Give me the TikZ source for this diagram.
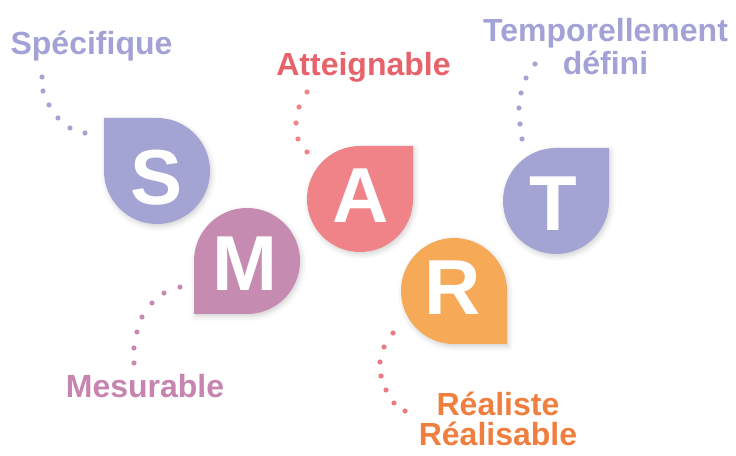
\documentclass[tikz,border=0pt]{standalone}
\usepackage{fontspec}
\setmainfont{Liberation Sans}
\usetikzlibrary{shadows.blur}
\definecolor{lav}{HTML}{A4A4D4}
\definecolor{lavtxt}{HTML}{A2A2D6}
\definecolor{mauve}{HTML}{C68BB1}
\definecolor{mauvetxt}{HTML}{C784B0}
\definecolor{salmon}{HTML}{F08387}
\definecolor{redtxt}{HTML}{E8626B}
\definecolor{reddot}{HTML}{EB7A83}
\definecolor{orng}{HTML}{F6AA58}
\definecolor{orngtxt}{HTML}{F07E3E}
\newcommand\mydrop[4]{%
  \fill[#4, blur shadow={shadow xshift=1.5pt, shadow yshift=-2.5pt, shadow blur radius=5pt, shadow opacity=18}]
    (#1,#2) ++(#3:74.953) -- ++(#3-135:53) arc[start angle=#3-45, delta angle=-270, radius=53] -- cycle;}
\begin{document}
\begin{tikzpicture}[x=1pt,y=1pt,
  lbl/.style={font=\bfseries\fontsize{32}{34}\selectfont, anchor=base, inner sep=0pt},
  bigletter/.style={font=\bfseries\fontsize{78}{80}\selectfont, text=white, inner sep=0pt}]
\useasboundingbox (0,0) rectangle (736,455);
% shapes
\mydrop{157}{284}{135}{lav}
\mydrop{247}{194}{225}{mauve}
\mydrop{360}{256}{45}{salmon}
\mydrop{454}{164}{315}{orng}
\mydrop{556}{254}{45}{lav}
% letters
\node[bigletter] (S) at (156.5,277) {S};
\node[bigletter] (M) at (245,191) {M};
\node[bigletter] (A) at (360.5,259) {A};
\node[bigletter] (R) at (453,167) {R};
\node[bigletter] (T) at (553.5,251) {T};
% labels
\node[lbl, text=lavtxt] (spec) at (91.5,400) {Spécifique};
\node[lbl, text=mauvetxt] (mes) at (145,57) {Mesurable};
\node[lbl, text=redtxt] (att) at (363.5,379) {Atteignable};
\node[lbl, text=orngtxt, anchor=south, align=center, font=\bfseries\fontsize{32}{30}\selectfont] (real) at (498,8.5) {Réaliste\\Réalisable};
\node[lbl, text=lavtxt, anchor=south, align=center, font=\bfseries\fontsize{32}{33}\selectfont] (temp) at (605.5,380) {Temporellement\\défini};
% dotted leaders
\foreach \p in {(42,378),(43,364),(49,350),(58,337),(70,327),(85,322)}
  \fill[lav] \p circle[radius=2.6];
\foreach \p in {(180,168),(164,162),(152,152),(142,138),(137,123),(134,107),(134,92)}
  \fill[mauve] \p circle[radius=2.6];
\foreach \p in {(307,363),(299,348),(296,332),(298,316),(307,303)}
  \fill[salmon] \p circle[radius=2.6];
\foreach \p in {(393,122),(384,108),(380,93),(381,79),(386,65),(394,52),(405,44)}
  \fill[reddot] \p circle[radius=2.6];
\foreach \p in {(535,391),(526,377),(521,362),(519,347),(520,331),(522,316)}
  \fill[lav] \p circle[radius=2.6];
\end{tikzpicture}
\end{document}
